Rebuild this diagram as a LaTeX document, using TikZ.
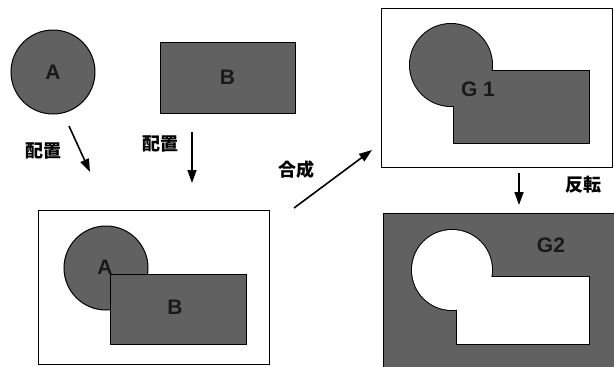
\documentclass[tikz,border=0pt]{standalone}
\usepackage{fontspec}
\setmainfont{Liberation Sans}
\newfontfamily\jpfont{Noto Sans CJK JP}
\usetikzlibrary{arrows.meta}
\begin{document}
\begin{tikzpicture}[x=1pt,y=-1pt,
  shade/.style={fill=black!62},
  outl/.style={draw=black,line width=1pt},
  frame/.style={draw=black,line width=0.9pt,rectangle,inner sep=0pt},
  arr/.style={line width=1.6pt,-{Triangle[length=13pt,width=9pt]}},
  jp/.style={font=\jpfont\bfseries\fontsize{18}{18}\selectfont},
  lt/.style={font=\bfseries\fontsize{21}{21}\selectfont, text=black!90}]
\useasboundingbox (0,0) rectangle (614,367);

% original shapes
\node[circle, shade, outl, minimum size=84pt, inner sep=0pt] (A) at (53,72) {};
\node[lt] (Alab) at (A.center) {A};
\node[rectangle, shade, outl, minimum width=135pt, minimum height=71pt, inner sep=0pt] (B) at (227.5,77.5) {};
\node[lt] (Blab) at (B.center) {B};

% placement arrows
\coordinate (a1s) at (69,126); \coordinate (a1e) at (90,172);
\coordinate (a2s) at (192,132); \coordinate (a2e) at (192,183);
\draw[arr] (a1s) -- (a1e);
\draw[arr] (a2s) -- (a2e);
\node[jp] (p1) at (44,151) {配置};
\node[jp] (p2) at (160,144) {配置};

% combined box
\node[frame, minimum width=231pt, minimum height=154pt] (C) at (153.5,287) {};
\node[circle, shade, outl, minimum size=84pt, inner sep=0pt] (Cc) at (106,268) {};
\node[rectangle, shade, outl, minimum width=136pt, minimum height=70pt, inner sep=0pt] (Cr) at (178,309) {};
\node[lt] (Clab) at (105,267) {A};
\node[lt] (Crlab) at (175,307) {B};

% synthesis arrow
\coordinate (a3s) at (294,208); \coordinate (a3e) at (372,150);
\draw[arr] (a3s) -- (a3e);
\node[jp] (p3) at (296,170) {合成};

% G1 box
\node[frame, minimum width=231pt, minimum height=159pt] (D) at (496.5,87.5) {};
\draw[shade, draw=black, line width=2pt] (451,65) circle[radius=41];
\draw[shade, draw=black, line width=2pt] (454,71) rectangle (589,143);
\fill[shade] (451,65) circle[radius=41];
\fill[shade] (454,71) rectangle (589,143);
\node[lt] (G1) at (478,89) {G 1};

% inversion arrow
\coordinate (a4s) at (519,173); \coordinate (a4e) at (519,205);
\draw[arr] (a4s) -- (a4e);
\node[jp] (p4) at (583,185) {反転};

% G2 box
\draw[shade, draw=black, line width=1pt] (383,213) rectangle (615,368);
\draw[fill=white, draw=black, line width=2pt] (452,270) circle[radius=40];
\draw[fill=white, draw=black, line width=2pt] (457,277) rectangle (589,344);
\fill[white] (452,270) circle[radius=40];
\fill[white] (457,277) rectangle (589,344);
\node[lt] (G2) at (551,245) {G2};
\end{tikzpicture}
\end{document}
